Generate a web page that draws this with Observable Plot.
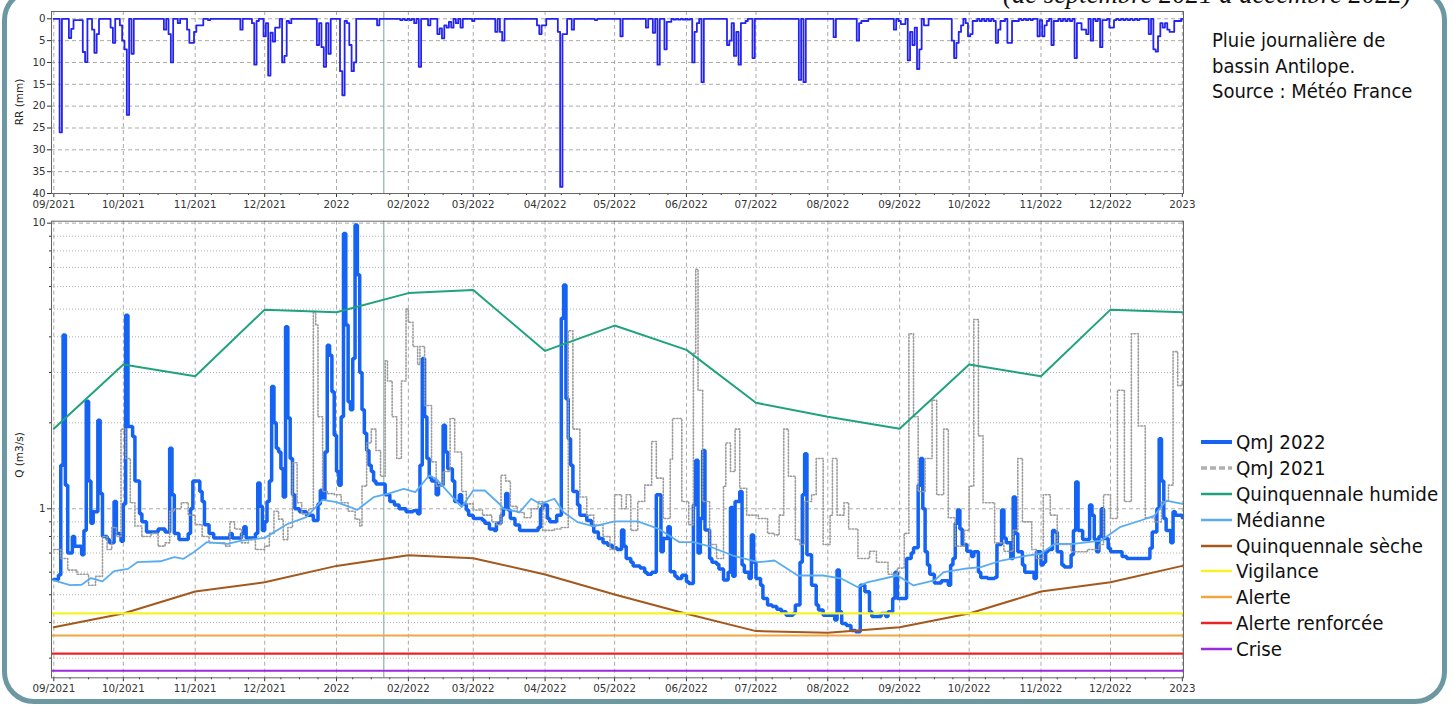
<!DOCTYPE html>
<html><head><meta charset="utf-8">
<script src="https://cdn.jsdelivr.net/npm/d3@7"></script>
<script src="https://cdn.jsdelivr.net/npm/@observablehq/plot@0.6"></script>
<style>
html,body{margin:0;padding:0;background:#fff;width:1454px;height:709px;overflow:hidden;position:relative;}
#frame{position:absolute;left:2px;top:-12px;width:1445px;height:716px;box-sizing:border-box;border:5px solid #6b98a1;border-radius:32px;}
.abs{position:absolute;}
#title{left:1003px;top:-19.4px;font:italic 26.7px/26.7px "Liberation Serif",serif;color:#111;white-space:nowrap;}
#note{left:1212px;top:28px;font-family:"DejaVu Sans Condensed","DejaVu Sans",sans-serif;font-size:20px;line-height:25.7px;color:#111;white-space:nowrap;}
#legend{left:1201px;top:429.6px;font-family:"DejaVu Sans Condensed","DejaVu Sans",sans-serif;font-size:20.3px;color:#111;white-space:nowrap;}
#legend .row{height:25.8px;display:flex;align-items:center;}
#legend svg{margin-right:4px;flex:none;}
.ylab{font-family:"DejaVu Sans",sans-serif;font-size:10.5px;color:#222;transform:translate(-50%,-50%) rotate(-90deg);white-space:nowrap;}
</style></head>
<body>
<div id="frame"></div>
<div id="top" class="abs" style="left:0;top:0"></div>
<div id="bottom" class="abs" style="left:0;top:208px"></div>
<div id="title" class="abs">(de septembre 2021 à décembre 2022)</div>
<div id="note" class="abs">Pluie journalière de<br>bassin Antilope.<br>Source : Météo France</div>
<div class="abs ylab" style="left:19px;top:102px">RR (mm)</div>
<div class="abs ylab" style="left:19px;top:455px">Q (m3/s)</div>
<div id="legend" class="abs"></div>
<script>
// ---------- DATA ----------
// day = number of days since 2021-09-01
const startDate = "2021-09-01";
const markerDate = "2022-01-21";
const rainTicks = [0, 5, 10, 15, 20, 25, 30, 35, 40];
const qMajorTicks = [1, 10];
const qMinorTicks = [0.3, 0.4, 0.5, 0.6, 0.7, 0.8, 0.9, 2, 3, 4, 5, 6, 7, 8, 9];

// daily basin rainfall (mm), [day, mm]; days not listed = 0
const rainEvents = [[3,26],[7,4.4],[8,2.3],[9,0.3],[10,0.3],[11,0.3],[12,0.3],[13,7.6],[14,9.9],[17,2.5],[18,7.8],[19,3.5],[25,2],[26,5.5],[29,1.5],[30,5],[31,7],[32,22],[34,8],[48,2.5],[50,3.5],[51,10],[54,1],[58,2.5],[59,5.5],[60,5.5],[61,3],[62,1.5],[63,1.5],[64,1.5],[67,0.3],[81,2.5],[86,1],[87,10.5],[88,0.5],[91,4],[92,1],[93,13],[94,3.2],[95,5.2],[96,2],[97,2],[99,10],[100,8.5],[101,0.5],[102,1],[114,6],[115,1],[116,6.5],[117,11],[118,1],[119,8],[124,12],[125,17.5],[126,0.5],[127,1],[128,6],[129,12],[130,10],[140,1.5],[150,0.3],[152,0.3],[154,0.3],[156,1],[158,11],[162,1.5],[166,3.5],[167,2.2],[168,4.5],[169,1.5],[170,2],[171,0.7],[172,2],[174,1],[176,2],[181,0.5],[191,3],[193,3],[194,5],[209,1.5],[210,3.5],[211,1.5],[212,1.5],[218,3],[219,38.5],[220,3.5],[221,3.5],[224,2.5],[234,0.3],[245,4],[256,2],[259,3.2],[261,10.5],[264,7],[265,0.7],[266,0.7],[268,0.2],[270,0.2],[272,0.2],[274,0.2],[276,10],[277,3],[278,1],[280,14.5],[291,6],[292,5],[293,1],[294,8.5],[295,3],[296,10.5],[297,1],[298,1],[299,0.5],[302,9],[322,14],[324,14.5],[337,4.2],[347,5],[348,1],[349,0.5],[350,0.5],[351,0.5],[363,2.5],[365,0.5],[366,1.2],[367,1.2],[369,9.5],[370,3],[371,6],[372,2],[373,11.5],[374,7],[376,1.5],[377,1.5],[388,5],[389,9],[390,5.5],[391,3],[392,1.5],[394,1],[395,4],[396,3.5],[397,0.5],[398,0.5],[400,0.5],[402,0.5],[404,0.5],[406,0.5],[407,5.5],[408,2.5],[409,0.5],[410,0.5],[412,5.5],[413,5.5],[414,0.5],[415,0.5],[416,0.5],[418,0.3],[420,0.3],[422,0.3],[425,4],[426,0.3],[427,4],[428,1.5],[429,0.5],[431,6],[432,0.5],[433,0.5],[435,0.5],[437,0.5],[439,0.5],[441,9],[442,1],[443,1],[444,2.5],[445,2.5],[446,3.5],[448,5],[450,0.5],[452,6.5],[453,0.3],[454,0.3],[456,2],[457,2],[458,0.3],[460,0.3],[462,0.3],[464,0.3],[466,0.3],[468,0.3],[473,3.5],[475,7],[476,7.5],[477,4],[478,1],[479,2],[480,1],[481,2.5],[482,3],[483,3],[484,0.5],[485,0.5],[486,0.5]];

// QmJ 2022 (m3/s), [day, Q]
const qmj2022 = [[0,0.566],[2,0.586],[3,1.42],[4,4.06],[5,1.21],[6,0.70],[8,0.80],[9,0.74],[12,0.69],[13,0.84],[14,2.38],[15,1.25],[16,0.89],[17,0.976],[19,2.04],[20,1.13],[21,0.80],[23,0.78],[24,0.76],[26,1.06],[27,0.82],[29,0.77],[30,1.04],[31,4.76],[32,1.94],[34,1.79],[35,1.25],[37,0.96],[38,0.90],[40,0.83],[45,0.85],[48,0.83],[50,1.63],[51,1.12],[52,0.82],[54,0.78],[58,0.82],[59,1.0],[60,1.25],[63,1.15],[64,1.06],[65,0.88],[67,0.82],[69,0.79],[76,0.82],[77,0.79],[81,0.82],[82,0.865],[83,0.79],[87,0.82],[88,1.23],[89,1.02],[90,0.84],[91,0.90],[92,1.06],[93,1.25],[94,2.68],[95,2.0],[96,1.63],[97,1.58],[98,1.38],[99,1.1],[100,4.34],[101,2.08],[102,1.5],[103,1.12],[104,1.0],[106,0.976],[109,0.95],[112,0.91],[114,1.04],[115,1.16],[116,1.08],[117,1.58],[118,3.74],[119,3.45],[120,2.57],[121,1.81],[122,1.35],[123,1.21],[124,2.1],[125,9.2],[126,4.4],[127,2.37],[128,2.22],[129,3.36],[130,9.85],[131,6.6],[132,3.0],[133,2.22],[134,1.84],[135,1.6],[136,1.42],[137,1.35],[138,1.25],[139,1.22],[143,1.12],[145,1.06],[147,1.03],[149,1.0],[152,0.976],[155,0.985],[157,0.96],[158,1.42],[159,3.36],[160,2.1],[161,1.5],[162,1.29],[163,1.25],[165,1.12],[166,1.21],[168,1.96],[169,1.58],[170,1.38],[172,1.25],[173,1.06],[175,1.12],[176,1.04],[178,0.99],[179,0.95],[181,0.925],[185,0.91],[186,0.89],[188,0.85],[190,0.84],[191,0.89],[193,0.95],[194,1.0],[195,1.13],[196,0.99],[197,0.925],[199,0.877],[201,0.84],[209,0.86],[210,1.0],[211,1.03],[213,0.925],[214,0.9],[217,0.95],[219,4.65],[220,6.07],[221,2.43],[222,1.76],[223,1.42],[224,1.15],[226,1.03],[227,0.95],[230,0.91],[232,0.877],[233,0.83],[235,0.787],[237,0.76],[239,0.746],[241,0.73],[243,0.72],[245,0.842],[246,0.74],[247,0.67],[249,0.65],[250,0.63],[253,0.62],[255,0.60],[256,0.59],[258,0.60],[260,1.12],[262,0.707],[263,0.787],[265,0.865],[266,0.602],[268,0.58],[269,0.57],[271,0.585],[273,0.555],[274,0.548],[276,1.03],[277,1.48],[278,0.70],[279,0.925],[280,1.6],[281,0.842],[283,0.67],[284,0.65],[286,0.64],[287,0.615],[289,0.563],[291,0.60],[292,1.01],[293,0.58],[294,1.06],[296,1.15],[297,0.635],[298,0.60],[300,0.57],[301,0.81],[302,0.65],[303,0.57],[305,0.54],[306,0.485],[308,0.46],[310,0.455],[312,0.445],[314,0.436],[316,0.424],[319,0.43],[320,0.46],[322,0.65],[323,1.12],[324,1.56],[325,0.69],[327,0.54],[329,0.46],[330,0.442],[332,0.424],[337,0.408],[338,0.61],[339,0.436],[340,0.397],[342,0.39],[344,0.375],[346,0.371],[348,0.54],[350,0.512],[352,0.436],[353,0.42],[357,0.43],[359,0.42],[360,0.436],[362,0.485],[363,0.60],[364,0.485],[368,0.67],[370,0.70],[371,0.73],[373,1.21],[374,1.5],[375,1.0],[376,0.707],[377,0.635],[378,0.59],[380,0.55],[383,0.56],[386,0.54],[387,0.635],[388,0.67],[389,0.89],[390,0.99],[391,0.85],[392,0.75],[394,0.71],[396,0.68],[397,0.707],[399,0.60],[400,0.575],[403,0.57],[406,0.575],[407,0.75],[409,0.99],[410,0.79],[411,0.76],[413,0.67],[414,1.1],[415,0.82],[416,0.707],[418,0.635],[419,0.60],[423,0.57],[424,0.707],[426,0.635],[427,0.65],[428,0.707],[429,0.72],[431,0.84],[432,0.83],[433,0.707],[435,0.635],[436,0.625],[439,0.69],[440,0.84],[441,1.24],[442,0.84],[444,0.78],[447,1.03],[448,0.95],[449,0.78],[450,0.707],[451,0.80],[452,1.0],[453,0.787],[455,0.727],[456,0.707],[460,0.707],[461,0.68],[463,0.67],[471,0.67],[473,0.727],[474,0.83],[476,1.0],[477,1.76],[478,1.25],[479,0.925],[480,0.84],[482,0.76],[483,0.976],[484,0.95],[487,0.93]];

// QmJ 2021 (m3/s), [day, Q]
const qmj2021 = [[0,0.72],[3,0.67],[6,0.61],[10,0.59],[15,0.54],[18,0.58],[21,0.80],[23,0.72],[25,0.86],[27,0.80],[29,1.9],[31,1.5],[33,1.05],[35,0.87],[38,0.80],[42,0.82],[45,0.74],[48,0.76],[50,0.98],[52,1.0],[55,1.05],[58,0.95],[61,0.88],[64,0.80],[67,0.76],[70,0.76],[74,0.74],[76,0.90],[78,0.85],[81,0.76],[84,0.78],[87,0.72],[91,0.74],[93,0.82],[95,0.98],[97,0.92],[99,0.78],[101,0.86],[103,1.45],[105,1.05],[107,0.96],[110,1.0],[112,4.9],[113,4.4],[114,2.1],[116,1.15],[118,1.13],[121,1.12],[124,1.05],[127,0.98],[130,0.92],[132,0.87],[133,1.2],[135,1.7],[137,1.9],[139,1.6],[141,1.3],[143,3.3],[144,2.8],[146,2.1],[148,1.5],[150,2.8],[152,5.0],[153,4.5],[155,3.7],[157,3.2],[158,3.7],[160,2.3],[163,1.46],[165,1.2],[168,1.35],[171,2.07],[173,1.58],[176,1.15],[178,1.04],[181,0.99],[185,0.95],[189,0.90],[191,0.88],[193,1.31],[195,1.25],[197,1.02],[200,0.97],[203,0.93],[206,1.0],[209,1.06],[211,0.84],[216,0.85],[219,0.86],[222,4.2],[224,1.9],[227,1.1],[230,0.95],[233,0.877],[237,0.80],[240,0.72],[242,1.12],[245,1.0],[247,1.12],[249,0.84],[252,1.06],[255,1.21],[258,1.72],[260,1.28],[263,0.925],[266,1.49],[267,2.07],[271,1.06],[274,0.88],[276,3.5],[277,6.9],[278,2.6],[280,1.06],[283,0.75],[286,0.67],[289,1.2],[290,1.7],[292,1.35],[294,1.9],[296,1.18],[299,0.95],[304,0.925],[308,0.82],[311,0.81],[313,0.95],[315,1.9],[317,1.3],[320,0.78],[322,0.75],[324,1.06],[327,1.12],[329,1.5],[332,0.75],[335,0.95],[336,1.5],[338,0.95],[341,1.05],[343,0.85],[347,0.67],[352,0.71],[355,0.65],[360,0.59],[364,0.62],[367,0.82],[369,4.1],[371,2.1],[373,1.15],[376,1.5],[379,2.4],[381,1.12],[384,1.9],[386,0.93],[389,0.74],[393,0.84],[395,1.2],[397,4.6],[399,1.8],[401,1.05],[406,0.76],[410,0.71],[414,0.84],[416,1.5],[418,0.9],[422,0.72],[424,0.67],[427,1.12],[430,0.95],[433,0.75],[439,0.707],[446,0.72],[451,0.75],[453,1.12],[456,0.925],[459,2.6],[462,1.06],[465,4.1],[468,1.95],[471,0.93],[475,0.90],[478,1.06],[481,1.21],[483,3.55],[485,2.7],[487,2.8]];

// Médianne (m3/s), [day, Q]
const mediane = [[0,0.561],[7,0.54],[12,0.542],[16,0.572],[21,0.557],[26,0.605],[32,0.616],[36,0.65],[46,0.655],[52,0.677],[56,0.668],[60,0.701],[66,0.764],[75,0.754],[81,0.774],[91,0.791],[101,0.886],[109,0.935],[116,1.075],[122,1.055],[131,0.992],[138,1.098],[144,1.128],[151,1.175],[156,1.144],[162,1.308],[165,1.273],[176,1.013],[181,1.159],[186,1.159],[193,1.027],[194,1.0],[201,0.973],[206,1.084],[210,1.04],[216,1.084],[220,0.973],[226,0.898],[233,0.867],[242,0.903],[252,0.903],[261,0.851],[270,0.764],[276,0.764],[283,0.738],[293,0.686],[304,0.650],[311,0.659],[321,0.584],[332,0.584],[340,0.569],[347,0.531],[351,0.553],[364,0.584],[371,0.539],[380,0.561],[384,0.60],[394,0.618],[400,0.625],[409,0.659],[420,0.686],[426,0.696],[432,0.754],[440,0.754],[452,0.774],[460,0.862],[469,0.91],[475,0.947],[480,1.069],[487,1.04]];

// monthly statistics
const climMonths = ["2021-09-01","2021-10-01","2021-11-01","2021-12-01","2022-01-01","2022-02-01","2022-03-01","2022-04-01","2022-05-01","2022-06-01","2022-07-01","2022-08-01","2022-09-01","2022-10-01","2022-11-01","2022-12-01","2023-01-01"];
const qHumide = [1.905,3.20,2.91,4.98,4.88,5.69,5.83,3.57,4.38,3.60,2.35,2.10,1.905,3.20,2.91,4.98,4.88];
const qSeche = [0.385,0.43,0.513,0.553,0.631,0.688,0.671,0.589,0.501,0.429,0.373,0.368,0.385,0.43,0.513,0.553,0.631];

// thresholds
const levelNames = ["Vigilance","Alerte","Alerte renforcée","Crise"];
const levelValues = [0.43, 0.36, 0.311, 0.271];

const seriesNames = ["QmJ 2022","QmJ 2021","Quinquennale humide","Médianne","Quinquennale sèche"];

// ---------- STYLES ----------
const C = {
  rain:"#2424ee", q22:"#1463f3", q21:"#9c9c9c", humide:"#20a37c", med:"#5aacf2", seche:"#a4581c",
  levels:["#f4f424","#f2a640","#ea2424","#9c2ae0"], grid:"#9c9c9c", marker:"#76a0a8"
};

const t0 = new Date(startDate + "T00:00:00Z").getTime();
const toDate = d => new Date(t0 + d * 864e5);
const xDomain = [new Date(Date.UTC(2021,7,31)), new Date(Date.UTC(2023,0,1,12))];
const monthTicks = d3.utcMonth.range(new Date(Date.UTC(2021,8,1)), new Date(Date.UTC(2023,0,2)));
const minorTicks = monthTicks.slice(0,-1).flatMap(m => [8,16,24].map(k => d3.utcDay.offset(m, k-1)));
const fmt = d => d.getUTCMonth() === 0 ? d3.utcFormat("%Y")(d) : d3.utcFormat("%m/%Y")(d);
const mk = new Date(markerDate + "T10:00:00Z");
const style = {fontFamily:"DejaVu Sans, sans-serif", fontSize:"10.3px", color:"#333", background:"transparent", overflow:"visible"};

const rainMap = new Map(rainEvents);
const rainDaily = d3.range(0, 488).map(d => ({date: toDate(d), mm: rainMap.get(d) ?? 0}));

const topPlot = Plot.plot({
  width:1200, height:215, marginLeft:51, marginRight:17, marginTop:11, marginBottom:22,
  style,
  x:{type:"utc", domain:xDomain, label:null},
  y:{domain:[-1.67,40], reverse:true, label:null},
  marks:[
    Plot.gridX(monthTicks, {stroke:C.grid, strokeOpacity:0.85, strokeDasharray:"4,3"}),
    Plot.gridY(rainTicks, {stroke:C.grid, strokeOpacity:0.85, strokeDasharray:"4,3"}),
    Plot.ruleX([mk], {stroke:C.marker, strokeWidth:1}),
    Plot.line(rainDaily, {x:"date", y:"mm", curve:"step", stroke:C.rain, strokeWidth:1.8}),
    Plot.axisY(rainTicks, {tickSize:4, tickPadding:2, label:null}),
    Plot.axisX(monthTicks, {tickFormat:fmt, tickSize:4, tickPadding:3, label:null}),
    Plot.axisX(minorTicks, {tickFormat:() => "", tickSize:2, label:null}),
    Plot.frame({stroke:"#666"})
  ]
});
document.getElementById("top").append(topPlot);

const P = a => a.map(([d, q]) => ({date: toDate(d), q}));
const bottomPlot = Plot.plot({
  width:1200, height:492, marginLeft:51, marginRight:17, marginTop:12.7, marginBottom:22.7,
  style,
  x:{type:"utc", domain:xDomain, label:null},
  y:{type:"log", domain:[0.256,10.16], label:null},
  marks:[
    Plot.gridY(qMinorTicks, {stroke:"#a8a8a8", strokeOpacity:0.9, strokeDasharray:"1,2"}),
    Plot.gridY(qMajorTicks, {stroke:C.grid, strokeOpacity:0.85, strokeDasharray:"4,3"}),
    Plot.gridX(monthTicks, {stroke:C.grid, strokeOpacity:0.85, strokeDasharray:"4,3"}),
    Plot.ruleX([mk], {stroke:C.marker, strokeWidth:1}),
    Plot.line(P(qmj2022), {x:"date", y:"q", curve:"step-after", stroke:C.q22, strokeWidth:3.5, strokeLinejoin:"miter"}),
    Plot.line(P(qmj2021), {x:"date", y:"q", curve:"step-after", stroke:C.q21, strokeWidth:1.6, strokeDasharray:"1.4,1.8"}),
    Plot.line(qHumide, {x:climMonths.map(s => new Date(s+"T00:00:00Z")), y:qHumide, stroke:C.humide, strokeWidth:2}),
    Plot.line(P(mediane), {x:"date", y:"q", stroke:C.med, strokeWidth:1.8}),
    Plot.line(qSeche, {x:climMonths.map(s => new Date(s+"T00:00:00Z")), y:qSeche, stroke:C.seche, strokeWidth:2}),
    ...levelValues.map((v, i) => Plot.ruleY([v], {stroke:C.levels[i], strokeWidth:2.2})),
    Plot.axisY(qMajorTicks, {tickSize:4, tickPadding:2, tickFormat:d => String(d), label:null}),
    Plot.axisY(qMinorTicks, {tickSize:2, tickFormat:() => "", label:null}),
    Plot.axisX(monthTicks, {tickFormat:fmt, tickSize:4, tickPadding:3, label:null}),
    Plot.axisX(minorTicks, {tickFormat:() => "", tickSize:2, label:null}),
    Plot.frame({stroke:"#666"})
  ]
});
document.getElementById("bottom").append(bottomPlot);

// legend
const legendItems = [
  {name:seriesNames[0], color:C.q22, w:4, dash:null},
  {name:seriesNames[1], color:"#b0b0b0", w:3.5, dash:"6,3"},
  {name:seriesNames[2], color:C.humide, w:2.5, dash:null},
  {name:seriesNames[3], color:C.med, w:2.5, dash:null},
  {name:seriesNames[4], color:C.seche, w:2.5, dash:null},
  ...levelNames.map((n, i) => ({name:n, color:C.levels[i], w:2.5, dash:null}))
];
const lg = document.getElementById("legend");
for (const it of legendItems) {
  const row = document.createElement("div");
  row.className = "row";
  row.innerHTML = `<svg width="31" height="8"><line x1="0" x2="31" y1="4" y2="4" stroke="${it.color}" stroke-width="${it.w}" ${it.dash ? `stroke-dasharray="${it.dash}"` : ""}/></svg><span>${it.name}</span>`;
  lg.append(row);
}
</script>
</body></html>
